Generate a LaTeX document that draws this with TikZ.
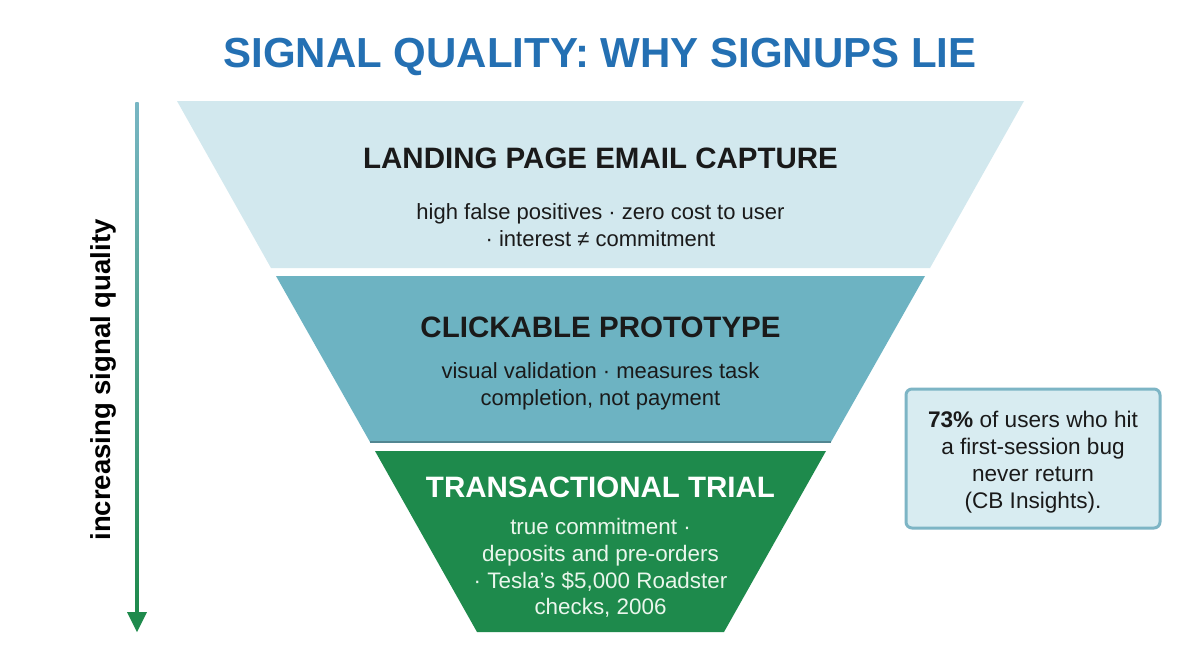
\documentclass[tikz,border=0pt]{standalone}
\usepackage{fontspec}
\setmainfont{Liberation Sans}
\usepackage{xcolor}
\usetikzlibrary{arrows.meta,calc,positioning}

\definecolor{titleblue}{HTML}{2470B3}
\definecolor{tierone}{HTML}{D2E8EE}
\definecolor{tiertwo}{HTML}{6DB3C2}
\definecolor{tierthree}{HTML}{1E8A4C}
\definecolor{boxfill}{HTML}{D8ECF1}
\definecolor{boxedge}{HTML}{7DB5C5}
\definecolor{arrowtop}{HTML}{78B6C4}
\definecolor{inkdark}{HTML}{1A1A1A}
\definecolor{inklight}{HTML}{EAF6EC}

\tikzset{
  tierhead/.style={font=\fontsize{29.5}{34}\selectfont\bfseries,anchor=base},
  tierbody/.style={font=\fontsize{22}{26.7}\selectfont,align=center,inner sep=0pt}
}

\begin{document}
\begin{tikzpicture}[x=1pt,y=-1pt]
  \useasboundingbox (0,0) rectangle (1200,669);
  \fill[white] (0,0) rectangle (1200,669);

  \node[font=\fontsize{42}{46}\selectfont\bfseries,text=titleblue,anchor=base] (title) at (600,67) {SIGNAL QUALITY: WHY SIGNUPS LIE};

  % funnel tiers
  \fill[tierone] (177,101) -- (1024,101) -- (930,268) -- (271,268) -- cycle;
  \fill[tiertwo] (276,276) -- (925,276) -- (831,442) -- (370,442) -- cycle;
  \draw[tiertwo!75!black,line width=1.2] (370,442) -- (831,442);
  \fill[tierthree] (375,451) -- (826,451) -- (724,632) -- (477,632) -- cycle;

  \node[tierhead,text=inkdark] (emailhead) at (600.5,168) {LANDING PAGE EMAIL CAPTURE};
  \node[tierbody,text=inkdark] (emailbody) at (600.5,225) {high false positives · zero cost to user\\· interest ≠ commitment};

  \node[tierhead,text=inkdark] (protohead) at (600.5,337) {CLICKABLE PROTOTYPE};
  \node[tierbody,text=inkdark] (protobody) at (600.5,386) {visual validation · measures task\\completion, not payment};

  \node[tierhead,text=white] (trialhead) at (600.5,497) {TRANSACTIONAL TRIAL};
  \node[tierbody,font=\fontsize{22.4}{26.8}\selectfont,text=inklight] (trialbody) at (600.5,568) {true commitment ·\\deposits and pre-orders\\· Tesla’s \$5,000 Roadster\\checks, 2006};

  % quality arrow
  \shade[top color=arrowtop,bottom color=tierthree] (135.4,102) rectangle (138.6,614);
  \fill[tierthree] (127,612) -- (147,612) -- (137,632) -- cycle;
  \node[font=\fontsize{27.5}{32}\selectfont\bfseries,rotate=90] (qlabel) at (103,380) {increasing signal quality};

  % side note
  \node[draw=boxedge,line width=3,fill=boxfill,rounded corners=6,minimum width=254,minimum height=139] (note) at (1033,458.5) {};
  \node[font=\fontsize{22.6}{26.8}\selectfont,align=center,text=inkdark] (notetext) at ([yshift=-3.5pt]note.center)
        {\textbf{73\%} of users who hit\\a first-session bug\\never return\\(CB Insights).};
\end{tikzpicture}
\end{document}
